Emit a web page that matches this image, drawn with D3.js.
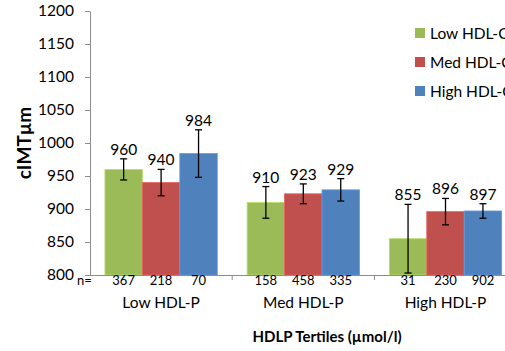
<!DOCTYPE html>
<html>
<head>
<meta charset="utf-8">
<script src="https://cdn.jsdelivr.net/npm/d3@7"></script>
<style>
  html, body { margin: 0; padding: 0; background: #fff; overflow: hidden; }
  svg { display: block; }
  text { font-family: Lato, "Open Sans", "Liberation Sans", sans-serif; fill: #000; }
</style>
</head>
<body>
<svg id="chart" width="505" height="351"></svg>
<script>
// HDL-P tertiles (x groups) and HDL-C tertiles (series)
const tertiles = ["Low HDL-P", "Med HDL-P", "High HDL-P"];
const seriesNames = ["Low HDL-C", "Med HDL-C", "High HDL-C"];
const seriesColors = ["#9BBB59", "#C0504D", "#4F81BD"];

// Mean cIMT (µm) per HDL-P tertile, one array per HDL-C tertile
const lowHdlC  = [960, 910, 855];
const medHdlC  = [940, 923, 896];
const highHdlC = [984, 929, 897];

// Error bar half-widths (µm)
const lowHdlCErr  = [16, 24, 52];
const medHdlCErr  = [20, 15, 20];
const highHdlCErr = [36, 17, 11];

// Subject counts per cell
const lowHdlCN  = [367, 158, 31];
const medHdlCN  = [218, 458, 230];
const highHdlCN = [70, 335, 902];

const yTicks = [800, 850, 900, 950, 1000, 1050, 1100, 1150, 1200];

const seriesValues = [lowHdlC, medHdlC, highHdlC];
const seriesErrors = [lowHdlCErr, medHdlCErr, highHdlCErr];
const seriesCounts = [lowHdlCN, medHdlCN, highHdlCN];

const svg = d3.select("#chart");
const axisColor = "#8c8c8c";

const plotLeft = 90, plotTop = 11, plotBottom = 275, plotRight = 516.6;

const y = d3.scaleLinear().domain([800, 1200]).range([plotBottom, plotTop]);
const x0 = d3.scaleBand().domain(tertiles).range([plotLeft, plotRight])
  .paddingInner(0.21).paddingOuter(0.105);
const x1 = d3.scaleBand().domain(seriesNames).range([0, x0.bandwidth()]);

// Y axis
const yAxis = d3.axisLeft(y).tickValues(yTicks).tickFormat(d3.format("d"))
  .tickSize(5).tickSizeOuter(0).tickPadding(11);
const gy = svg.append("g").attr("transform", `translate(${plotLeft},0)`).call(yAxis);
gy.select(".domain").attr("stroke", axisColor);
gy.selectAll(".tick line").attr("stroke", axisColor);
gy.selectAll(".tick text").attr("font-size", 15.5).attr("font-family", "Lato, 'Open Sans', sans-serif").attr("fill", "#000");

// Cells flattened
const cells = [];
tertiles.forEach((t, i) => {
  seriesNames.forEach((s, j) => {
    cells.push({ tertile: t, series: s, j,
      value: seriesValues[j][i], err: seriesErrors[j][i], n: seriesCounts[j][i] });
  });
});

// Bars
svg.append("g").selectAll("rect").data(cells).join("rect")
  .attr("x", d => x0(d.tertile) + x1(d.series))
  .attr("y", d => y(d.value))
  .attr("width", x1.bandwidth())
  .attr("height", d => y(800) - y(d.value))
  .attr("fill", d => seriesColors[d.j])
  .attr("stroke", d => d3.color(seriesColors[d.j]).brighter(0.5))
  .attr("stroke-width", 0.8);

// X axis baseline with group separators
svg.append("line")
  .attr("x1", plotLeft).attr("x2", 505)
  .attr("y1", plotBottom + 0.5).attr("y2", plotBottom + 0.5)
  .attr("stroke", axisColor);
const boundaries = tertiles.map(t => x0(t) - x0.step() * x0.paddingInner() / 2).slice(1);
svg.append("g").selectAll("line").data(boundaries).join("line")
  .attr("x1", d => d).attr("x2", d => d)
  .attr("y1", plotBottom).attr("y2", plotBottom + 5)
  .attr("stroke", axisColor);

// Error bars
const eb = svg.append("g").attr("stroke", "#000").attr("stroke-width", 1.3);
cells.forEach(d => {
  const cx = x0(d.tertile) + x1(d.series) + x1.bandwidth() / 2;
  const top = y(d.value + d.err), bot = y(d.value - d.err);
  eb.append("line").attr("x1", cx).attr("x2", cx).attr("y1", top).attr("y2", bot);
  eb.append("line").attr("x1", cx - 3.5).attr("x2", cx + 3.5).attr("y1", top).attr("y2", top);
  eb.append("line").attr("x1", cx - 3.5).attr("x2", cx + 3.5).attr("y1", bot).attr("y2", bot);
});

// Value labels above error bars
svg.append("g").selectAll("text").data(cells).join("text")
  .attr("x", d => x0(d.tertile) + x1(d.series) + x1.bandwidth() / 2)
  .attr("y", d => y(d.value + d.err) - 4)
  .attr("text-anchor", "middle")
  .attr("font-size", 15.5)
  .text(d => d.value);

// Counts under bars
svg.append("text").attr("x", 77).attr("y", 285).attr("font-size", 13).text("n=");
svg.append("g").selectAll("text").data(cells).join("text")
  .attr("x", d => x0(d.tertile) + x1(d.series) + x1.bandwidth() / 2)
  .attr("y", 285)
  .attr("text-anchor", "middle")
  .attr("font-size", 13)
  .text(d => d.n);

// Group labels
svg.append("g").selectAll("text").data(tertiles).join("text")
  .attr("x", d => x0(d) + x0.bandwidth() / 2)
  .attr("y", 308)
  .attr("text-anchor", "middle")
  .attr("font-size", 15.5)
  .text(d => d);

// Axis titles
svg.append("text")
  .attr("x", 327).attr("y", 342)
  .attr("text-anchor", "middle")
  .attr("font-size", 15).attr("font-weight", "bold")
  .text("HDLP Tertiles (µmol/l)");
svg.append("text")
  .attr("transform", "translate(31,143) rotate(-90)")
  .attr("text-anchor", "middle")
  .attr("font-size", 19).attr("font-weight", "bold")
  .text("cIMTµm");

// Legend (runs past the right edge of the page)
const legend = svg.append("g").attr("transform", "translate(415,0)");
seriesNames.forEach((s, j) => {
  const cy = 33 + j * 29;
  legend.append("rect").attr("x", 0).attr("y", cy - 5).attr("width", 10).attr("height", 10)
    .attr("fill", seriesColors[j]);
  legend.append("text").attr("x", 15).attr("y", cy + 5.5).attr("font-size", 15.5).text(s);
});
</script>
</body>
</html>
